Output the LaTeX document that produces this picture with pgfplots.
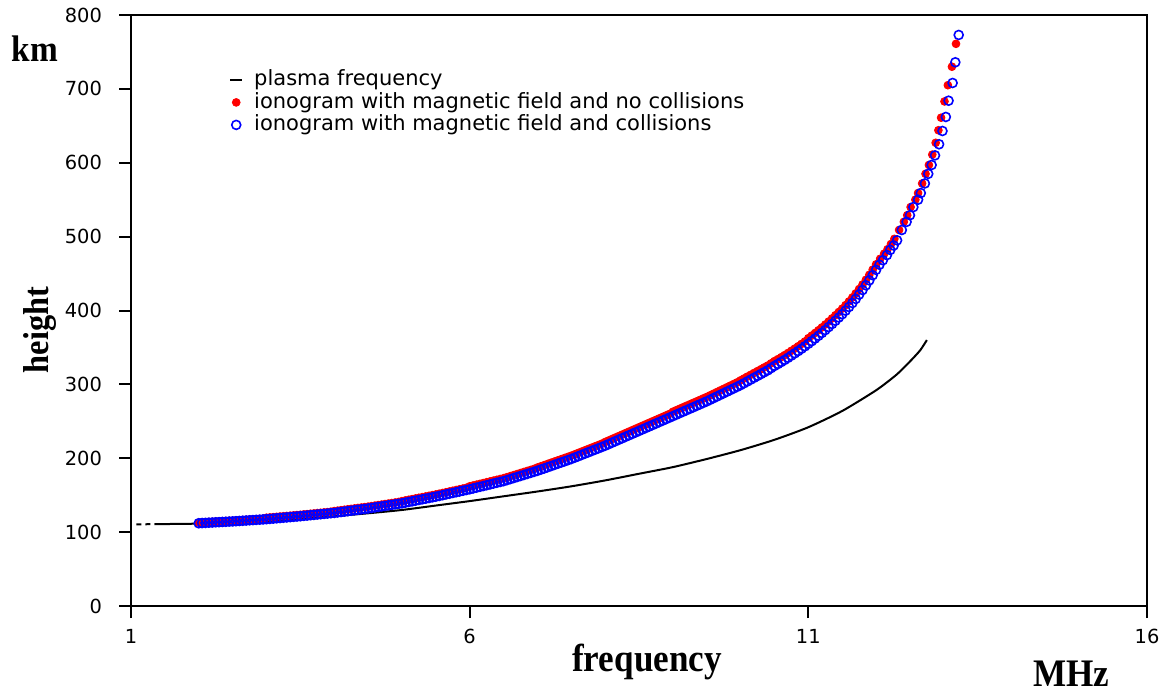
\documentclass[border=0pt]{standalone}
\usepackage{fontspec}
\setmainfont{DejaVu Sans}
\newfontfamily\labelfont[FakeStretch=0.9]{Liberation Serif}
\usepackage{pgfplots}
\pgfplotsset{compat=1.18}
\usepackage{pgfplotstable}

\pgfplotsset{
  dashlegend/.style={legend image code/.code={\draw[##1] (-3pt,0pt) -- (3pt,0pt);}},
  marklegend/.style={legend image code/.code={\draw[mark repeat=2,mark phase=2,##1] plot coordinates {(-1pt,0pt) (0pt,0pt) (1pt,0pt)};}},
}

% lower part of both ionograms: frequency, with collisions (b), no collisions (r)
\pgfplotstableread{
f b r
2.00 112.0 113.0
2.05 112.3 113.3
2.10 112.5 113.5
2.15 112.8 113.8
2.20 113.0 114.0
2.25 113.3 114.3
2.30 113.5 114.5
2.35 113.8 114.8
2.40 114.0 115.0
2.45 114.3 115.3
2.50 114.5 115.5
2.55 114.8 115.8
2.60 115.1 116.1
2.65 115.4 116.4
2.70 115.7 116.7
2.75 116.0 117.0
2.80 116.3 117.3
2.85 116.6 117.6
2.90 116.9 117.9
2.95 117.2 118.2
3.00 117.5 119.5
3.05 117.9 119.9
3.10 118.3 120.3
3.15 118.7 120.7
3.20 119.1 121.1
3.25 119.5 121.5
3.30 119.9 121.9
3.35 120.3 122.3
3.40 120.7 122.7
3.45 121.1 123.1
3.50 121.5 123.5
3.55 122.0 124.0
3.60 122.4 124.4
3.65 122.9 124.9
3.70 123.3 125.3
3.75 123.8 125.8
3.80 124.2 126.2
3.85 124.7 126.7
3.90 125.1 127.1
3.95 125.6 127.6
4.00 126.0 128.5
4.05 126.6 129.1
4.10 127.2 129.7
4.15 127.8 130.3
4.20 128.4 130.9
4.25 129.0 131.5
4.30 129.6 132.1
4.35 130.2 132.7
4.40 130.8 133.3
4.45 131.4 133.9
4.50 132.0 134.5
4.55 132.7 135.2
4.60 133.4 135.9
4.65 134.1 136.6
4.70 134.8 137.3
4.75 135.5 138.0
4.80 136.2 138.7
4.85 136.9 139.4
4.90 137.6 140.1
4.95 138.3 140.8
5.00 139.0 142.0
5.05 139.9 142.9
5.10 140.8 143.8
5.15 141.7 144.7
5.20 142.6 145.6
5.25 143.5 146.5
5.30 144.4 147.4
5.35 145.3 148.3
5.40 146.2 149.2
5.45 147.1 150.1
5.50 148.0 151.0
5.55 149.0 152.0
5.60 150.0 153.0
5.65 151.0 154.0
5.70 152.0 155.0
5.75 153.0 156.0
5.80 154.0 157.0
5.85 155.0 158.0
5.90 156.0 159.0
5.95 157.0 160.0
6.00 158.0 162.0
6.05 159.1 163.1
6.10 160.2 164.2
6.15 161.3 165.3
6.20 162.4 166.4
6.25 163.5 167.5
6.30 164.6 168.6
6.35 165.7 169.7
6.40 166.8 170.8
6.45 167.9 171.9
6.50 169.0 173.0
6.55 170.4 174.4
6.60 171.8 175.8
6.65 173.2 177.2
6.70 174.6 178.6
6.75 176.0 180.0
6.80 177.4 181.4
6.85 178.8 182.8
6.90 180.2 184.2
6.95 181.6 185.6
7.00 183.0 187.5
7.05 184.6 189.1
7.10 186.2 190.7
7.15 187.8 192.3
7.20 189.4 193.9
7.25 191.0 195.5
7.30 192.6 197.1
7.35 194.2 198.7
7.40 195.8 200.3
7.45 197.4 201.9
7.50 199.0 203.5
7.55 200.8 205.3
7.60 202.6 207.1
7.65 204.4 208.9
7.70 206.2 210.7
7.75 208.0 212.5
7.80 209.8 214.3
7.85 211.6 216.1
7.90 213.4 217.9
7.95 215.2 219.7
8.00 217.0 222.0
8.05 219.0 224.0
8.10 221.0 226.0
8.15 223.0 228.0
8.20 225.0 230.0
8.25 227.0 232.0
8.30 229.0 234.0
8.35 231.0 236.0
8.40 233.0 238.0
8.45 235.0 240.0
8.50 237.0 242.0
8.55 239.0 244.0
8.60 241.0 246.0
8.65 243.0 248.0
8.70 245.0 250.0
8.75 247.0 252.0
8.80 249.0 254.0
8.85 251.0 256.0
8.90 253.0 258.0
8.95 255.0 260.0
9.00 257.0 263.0
9.05 259.0 265.0
9.10 261.0 267.0
9.15 263.0 269.0
9.20 265.0 271.0
9.25 267.0 273.0
9.30 269.0 275.0
9.35 271.0 277.0
9.40 273.0 279.0
9.45 275.0 281.0
9.50 277.0 283.0
9.55 279.2 285.2
9.60 281.4 287.4
9.65 283.6 289.6
9.70 285.8 291.8
9.75 288.0 294.0
9.80 290.2 296.2
9.85 292.4 298.4
9.90 294.6 300.6
9.95 296.8 302.8
10.00 299.0 305.5
10.05 301.5 308.0
10.10 304.0 310.5
10.15 306.5 313.0
10.20 309.0 315.5
10.25 311.5 318.0
10.30 314.0 320.5
10.35 316.5 323.0
10.40 319.0 325.5
10.45 322.0 328.5
10.50 325.0 331.5
10.55 327.6 334.1
10.60 330.3 336.8
10.65 333.1 339.6
10.70 336.0 342.5
10.75 339.0 345.5
10.80 342.0 348.5
10.85 345.1 351.6
10.90 348.3 354.8
10.95 351.6 358.1
11.00 355.0 362.5
11.05 358.5 366.0
11.10 362.1 369.6
11.15 365.8 373.3
11.20 369.6 377.1
11.25 373.5 381.0
11.30 377.6 385.1
11.35 381.8 389.3
11.40 386.1 393.6
11.45 390.5 398.0
11.50 395.0 402.5
11.55 399.8 407.3
11.60 404.8 412.3
11.65 410.1 417.6
11.70 415.7 423.2
11.75 421.6 429.1
11.80 427.7 435.2
11.85 434.1 441.6
11.90 440.8 448.3
11.95 447.8 455.3
12.00 455.0 462.5
}\lowtable

\pgfplotstableread{
f h
12.06 470
12.12 477
12.17 483
12.22 490
12.27 497
12.34 509
12.41 520
12.46 529
12.51 540
12.58 550
12.62 559
12.68 572
12.73 585
12.78 597
12.83 611
12.88 627
12.92 644
12.96 661
13.01 683
13.06 705
13.12 730
13.18 761
}\redtop

\pgfplotstableread{
f h
12.05 462
12.10 468
12.16 475
12.21 482
12.26 488
12.31 495
12.38 509
12.45 520
12.50 529
12.55 540
12.62 550
12.66 559
12.72 572
12.77 585
12.82 597
12.87 610
12.93 625
12.98 643
13.03 662
13.07 684
13.13 708
13.17 736
13.22 773
}\bluetop

\begin{document}
\begin{tikzpicture}
\useasboundingbox (-65.5pt,-43pt) rectangle (520.5pt,303pt);
\begin{axis}[
  scale only axis, width=508pt, height=295.5pt,
  xmin=1, xmax=16, ymin=0, ymax=800,
  xtick={1,6,11,16}, ytick={0,100,...,800},
  tick align=outside, xtick pos=left, ytick pos=left,
  major tick length=6pt,
  axis line style={line width=1pt},
  tick style={line width=1pt, black},
  tick label style={font=\fontsize{9.7}{11}\selectfont},
  /pgf/number format/assume math mode=true,
  yticklabel style={xshift=-5pt},
  xticklabel style={yshift=-2pt},
  clip=false,
  legend cell align=left,
  legend style={draw=none, fill=none, at={(0.0963,0.9099)}, anchor=north west,
    font=\fontsize{10.5}{12}\selectfont, row sep=0pt, column sep=5.5pt, inner sep=0pt,
    nodes={inner xsep=0pt, inner ysep=0pt, text height=8.5pt, text depth=2.75pt}},
]
\addplot[black, line width=1pt, dashlegend, smooth, tension=0.4]
  coordinates {(1.35,110.8) (2.0,111.5) (2.5,113) (3.0,115) (3.5,118) (4.0,121.5)
   (4.5,125.5) (5.0,130) (5.5,136) (6.0,142) (6.5,148.5) (7.0,155) (7.5,162)
   (8.0,170) (8.5,179) (9.0,188) (9.5,199) (10.0,211) (10.5,225) (11.0,242)
   (11.5,264) (12.0,292) (12.3,313) (12.5,331) (12.65,346) (12.75,360)};
\addplot[black, line width=1pt, dash pattern=on 2.5pt off 2pt, forget plot]
  coordinates {(1.08,110.5) (1.35,110.8)};
\addplot[only marks, mark=*, mark size=1.95pt, color=red, mark options={draw=red, fill=red}, marklegend]
  table[x=f, y=r] {\lowtable};
\addplot[only marks, mark=*, mark size=1.95pt, color=red, mark options={draw=red, fill=red}, forget plot]
  table[x=f, y=h] {\redtop};
\addplot[only marks, mark=o, mark size=2.25pt, color=blue, mark options={line width=0.8pt}, marklegend]
  table[x=f, y=b] {\lowtable};
\addplot[only marks, mark=o, mark size=2.25pt, color=blue, mark options={line width=0.8pt}, forget plot]
  table[x=f, y=h] {\bluetop};
\legend{plasma frequency, ionogram with magnetic field and no collisions, ionogram with magnetic field and collisions}
\end{axis}
\node[font=\labelfont\bfseries\fontsize{18.5}{20}\selectfont, anchor=base, inner sep=0pt] at (-48pt,272pt) {km};
\node[font=\labelfont\bfseries\fontsize{18}{20}\selectfont, rotate=90, inner sep=0pt] at (-45.5pt,138pt) {height};
\node[font=\labelfont\bfseries\fontsize{19.5}{20}\selectfont, inner sep=0pt] at (258pt,-28pt) {frequency};
\node[font=\labelfont\bfseries\fontsize{19.5}{20}\selectfont, anchor=base, inner sep=0pt] at (470pt,-40pt) {MHz};
\end{tikzpicture}
\end{document}
